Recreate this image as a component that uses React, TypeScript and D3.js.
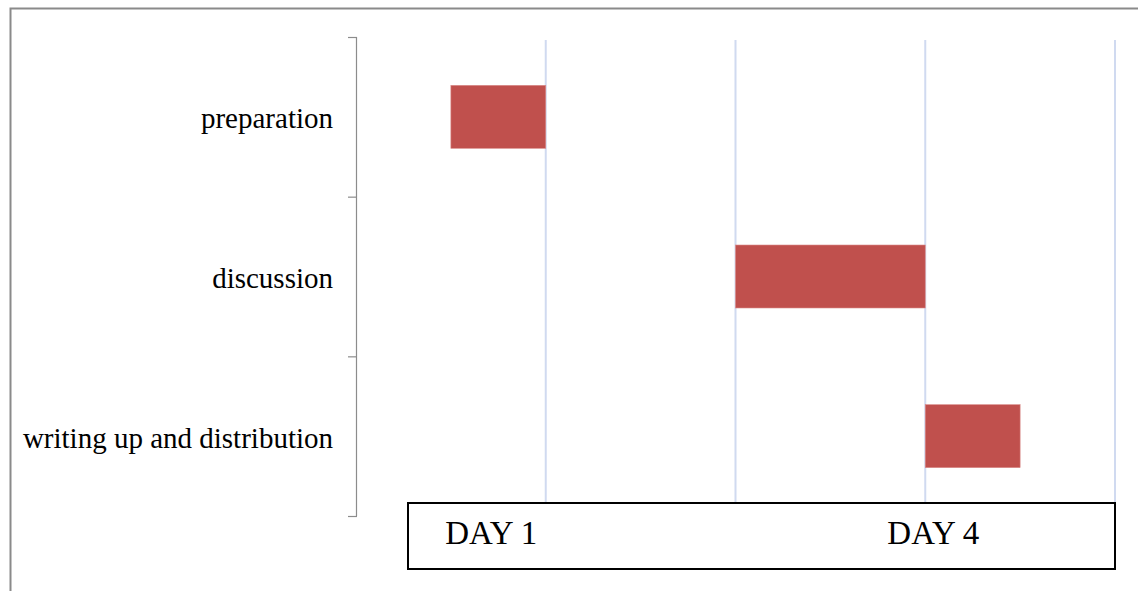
import React from "react";
import * as d3 from "d3";

const tasks = ["preparation", "discussion", "writing up and distribution"];
const starts = [0.5, 2, 3];
const ends = [1, 3, 3.5];
const gridValues = [1, 2, 3, 4];
const dayLabels = ["DAY 1", "DAY 4"];
const dayLabelPos = [0.47, 2.8];

export default function App() {
  const W = 1138, H = 591;
  const x = d3.scaleLinear().domain([0, 4]).range([356, 1115]);
  const yb = d3.scaleBand().domain(tasks).range([37, 516]);
  const font = "Liberation Serif, Times New Roman, serif";
  return (
    <svg width={W} height={H} style={{ position: "absolute", left: 0, top: 0, background: "#fff" }}>
      <rect x={0} y={0} width={W} height={H} fill="#fff" />
      <path d={`M10.5,${H} V8.5 H${W}`} fill="none" stroke="#8a8a8a" strokeWidth={2} />
      {gridValues.map((v) => (
        <line key={v} x1={x(v)} x2={x(v)} y1={40} y2={502} stroke="#d0daf0" strokeWidth={2} />
      ))}
      <line x1={356.5} x2={356.5} y1={37} y2={516} stroke="#8c8c8c" strokeWidth={1.2} />
      {[0, 1, 2, 3].map((i) => {
        const yy = i < 3 ? (yb(tasks[i]) as number) : 516;
        return <line key={i} x1={348} x2={357} y1={yy + 0.5} y2={yy + 0.5} stroke="#8c8c8c" strokeWidth={1.2} />;
      })}
      {tasks.map((t, i) => (
        <rect key={t} x={x(starts[i])} y={(yb(t) as number) + yb.bandwidth() / 2 - 31.5}
          width={x(ends[i]) - x(starts[i])} height={63} fill="#c0504d" stroke="#d98c8a" strokeWidth={0.6} />
      ))}
      {tasks.map((t) => (
        <text key={t} x={333} y={(yb(t) as number) + yb.bandwidth() / 2 + 11.5} textAnchor="end"
          fontFamily={font} fontSize={29} fill="#000">{t}</text>
      ))}
      <rect x={408} y={503} width={707} height={66} fill="#fff" stroke="#000" strokeWidth={2} />
      {dayLabels.map((d, i) => (
        <text key={d} x={x(dayLabelPos[i])} y={544} fontFamily={font} fontSize={33} fill="#000">{d}</text>
      ))}
    </svg>
  );
}
